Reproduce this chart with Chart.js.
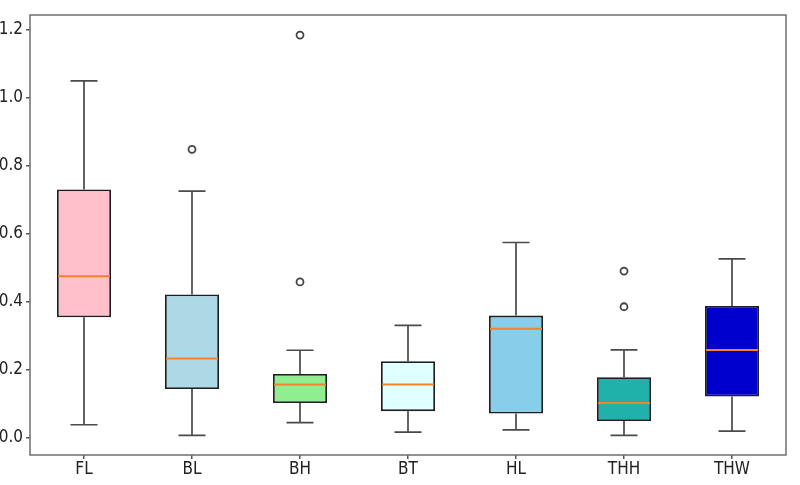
<!DOCTYPE html>
<html>
<head>
<meta charset="utf-8">
<script src="https://cdn.jsdelivr.net/npm/chart.js@4/dist/chart.umd.min.js"></script>
<style>
  html, body { margin: 0; padding: 0; background: #fff; }
  #wrap { width: 800px; height: 485px; }
</style>
</head>
<body>
<div id="wrap"><canvas id="myChart" width="800" height="485"></canvas></div>
<script>
// box plot values
const labels = ['FL', 'BL', 'BH', 'BT', 'HL', 'THH', 'THW'];
const whiskerLow  = [0.038, 0.007, 0.044, 0.016, 0.023, 0.007, 0.019];
const q1          = [0.354, 0.143, 0.102, 0.078, 0.071, 0.049, 0.121];
const medians     = [0.475, 0.233, 0.156, 0.156, 0.320, 0.102, 0.258];
const q3          = [0.730, 0.421, 0.187, 0.225, 0.359, 0.178, 0.387];
const whiskerHigh = [1.049, 0.725, 0.257, 0.330, 0.574, 0.258, 0.526];
const outliers    = [[], [0.848], [1.184, 0.458], [], [], [0.490, 0.385], []];
const yTicks = [0, 0.2, 0.4, 0.6, 0.8, 1.0, 1.2];
const boxColors = ['#FFC0CB', '#ADD8E6', '#90EE90', '#E0FFFF', '#87CEEB', '#20B2AA', '#0000CD'];

const FONT = "'Liberation Sans Narrow', 'DejaVu Sans Condensed', 'Open Sans', sans-serif";

// flatten outliers into points on the category axis
var outlierPoints = [];
outliers.forEach(function(list, i) {
    list.forEach(function(v) {
        outlierPoints.push({ x: labels[i], y: v });
    });
});

// whiskers, caps, medians and frame
const boxPlotExtras = {
    id: 'boxPlotExtras',
    beforeDatasetsDraw(chart) {
        const ctx = chart.ctx;
        const xs = chart.scales.x, ys = chart.scales.y;
        const meta = chart.getDatasetMeta(0);
        ctx.save();
        ctx.strokeStyle = '#4a4a4a';
        ctx.lineWidth = 1.7;
        labels.forEach(function(lab, i) {
            const x = xs.getPixelForValue(i);
            const half = meta.data[i].width / 4;
            ctx.beginPath();
            ctx.moveTo(x, ys.getPixelForValue(q3[i]));
            ctx.lineTo(x, ys.getPixelForValue(whiskerHigh[i]));
            ctx.moveTo(x, ys.getPixelForValue(q1[i]));
            ctx.lineTo(x, ys.getPixelForValue(whiskerLow[i]));
            ctx.moveTo(x - half, ys.getPixelForValue(whiskerHigh[i]));
            ctx.lineTo(x + half, ys.getPixelForValue(whiskerHigh[i]));
            ctx.moveTo(x - half, ys.getPixelForValue(whiskerLow[i]));
            ctx.lineTo(x + half, ys.getPixelForValue(whiskerLow[i]));
            ctx.stroke();
        });
        ctx.restore();
    },
    afterDatasetsDraw(chart) {
        const ctx = chart.ctx;
        const xs = chart.scales.x, ys = chart.scales.y;
        const meta = chart.getDatasetMeta(0);
        ctx.save();
        ctx.strokeStyle = '#F5822A';
        ctx.lineWidth = 2;
        labels.forEach(function(lab, i) {
            const x = xs.getPixelForValue(i);
            const half = meta.data[i].width / 2 - 1;
            const y = ys.getPixelForValue(medians[i]);
            ctx.beginPath();
            ctx.moveTo(x - half, y);
            ctx.lineTo(x + half, y);
            ctx.stroke();
        });
        // frame round the plot
        const a = chart.chartArea;
        ctx.strokeStyle = '#6e6e6e';
        ctx.lineWidth = 1.5;
        ctx.strokeRect(a.left, a.top, a.right - a.left, a.bottom - a.top);
        ctx.restore();
    }
};

const data = {
    labels: labels,
    datasets: [{
        type: 'bar',
        label: 'box',
        data: q1.map(function(v, i) { return [v, q3[i]]; }),
        backgroundColor: boxColors,
        borderColor: '#1e1e1e',
        borderWidth: 1.8,
        borderSkipped: false,
        barPercentage: 0.5,
        categoryPercentage: 1.0,
        order: 2
    }, {
        type: 'line',
        label: 'outliers',
        data: outlierPoints,
        showLine: false,
        pointStyle: 'circle',
        pointRadius: 3.5,
        pointBorderWidth: 1.8,
        pointBorderColor: '#444',
        pointBackgroundColor: '#fff',
        order: 1
    }]
};

const config = {
    type: 'bar',
    data: data,
    options: {
        responsive: false,
        animation: false,
        layout: { padding: { top: 15, right: 14, left: 0, bottom: 0 } },
        plugins: {
            legend: { display: false },
            tooltip: { enabled: false }
        },
        scales: {
            x: {
                type: 'category',
                offset: true,
                grid: { display: true, offset: false, drawOnChartArea: false, drawTicks: true, tickLength: 4, color: '#555', lineWidth: 1.5 },
                border: { display: false },
                ticks: { color: '#222', padding: 0, font: { family: FONT, size: 17 } },
                afterFit: function(scale) { scale.height = 30; }
            },
            y: {
                min: -0.051,
                max: 1.243,
                grid: { display: true, drawOnChartArea: false, drawTicks: true, tickLength: 4, color: '#555', lineWidth: 1.5 },
                border: { display: false },
                ticks: {
                    color: '#222',
                    padding: 3,
                    font: { family: FONT, size: 17 },
                    callback: function(v) { return Number(v).toFixed(1); }
                },
                afterBuildTicks: function(scale) {
                    scale.ticks = yTicks.map(function(v) { return { value: v }; });
                },
                afterFit: function(scale) { scale.width = 30; }
            }
        }
    },
    plugins: [boxPlotExtras]
};

var myChartJS = new Chart(document.getElementById('myChart'), config);
</script>
</body>
</html>
